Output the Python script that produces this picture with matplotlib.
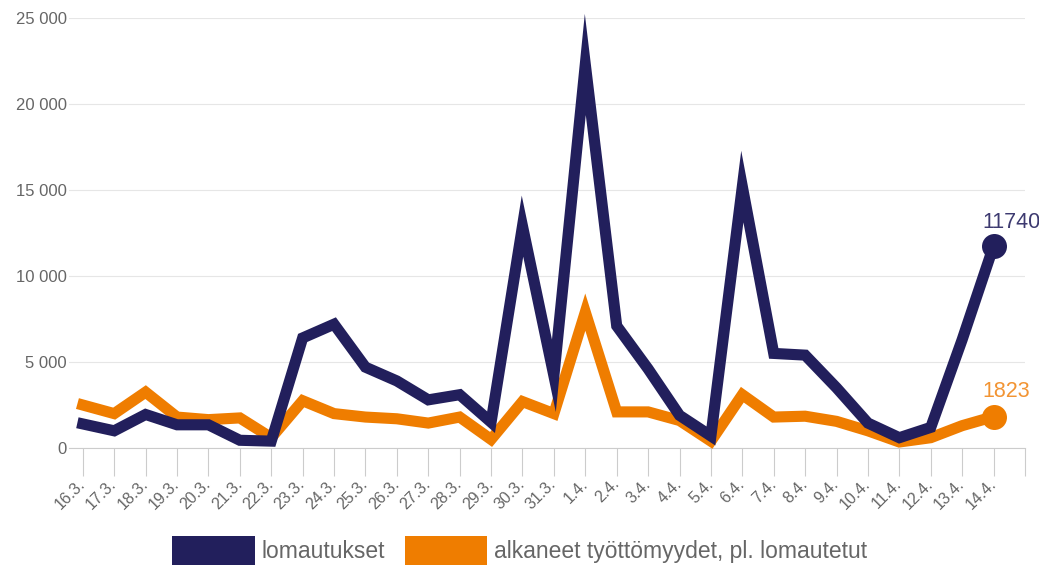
import numpy as np
import matplotlib
matplotlib.use('Agg')
from matplotlib import pyplot as plt
from matplotlib.patches import Patch
from matplotlib.ticker import FuncFormatter

plt.rcParams['font.family'] = ['Liberation Sans', 'DejaVu Sans']

# Päivät 16.3.-14.4.
days = ['16.3.', '17.3.', '18.3.', '19.3.', '20.3.', '21.3.', '22.3.', '23.3.',
        '24.3.', '25.3.', '26.3.', '27.3.', '28.3.', '29.3.', '30.3.', '31.3.',
        '1.4.', '2.4.', '3.4.', '4.4.', '5.4.', '6.4.', '7.4.', '8.4.', '9.4.',
        '10.4.', '11.4.', '12.4.', '13.4.', '14.4.']

lomautukset = [1400, 1000, 1950, 1350, 1350, 450, 400, 6400,
               7200, 4700, 3900, 2800, 3100, 1500, 12900, 4200,
               22300, 7100, 4600, 1900, 700, 15200, 5500, 5400, 3500,
               1450, 600, 1200, 6300, 11740]

alkaneet = [2500, 2000, 3250, 1800, 1650, 1750, 600, 2750,
            2000, 1800, 1700, 1450, 1800, 500, 2700, 2000,
            7900, 2100, 2100, 1600, 400, 3100, 1800, 1850, 1550,
            1000, 350, 600, 1300, 1823]

names = ['lomautukset', 'alkaneet työttömyydet, pl. lomautetut']
navy = '#221f5c'
orange = '#ef7d00'
grey = '#666666'

fig = plt.figure(figsize=(10.39, 5.70), dpi=100)
ax = fig.add_axes([0.0664, 0.2140, 0.9201, 0.7544])

x = np.arange(len(days))
ax.plot(x, alkaneet, color=orange, lw=8, solid_joinstyle='miter',
        marker='o', markevery=[-1], ms=18, mew=0, clip_on=False, zorder=3)
ax.plot(x, lomautukset, color=navy, lw=8, solid_joinstyle='miter',
        marker='o', markevery=[-1], ms=18, mew=0, clip_on=False, zorder=4)

# arvot viimeisen pisteen yläpuolelle
ax.annotate(str(lomautukset[-1]), (x[-1], lomautukset[-1]), xytext=(-8, 13),
            textcoords='offset points', color='#3d3a70', fontsize=15.5,
            ha='left', va='baseline', annotation_clip=False)
ax.annotate(str(alkaneet[-1]), (x[-1], alkaneet[-1]), xytext=(-8, 14),
            textcoords='offset points', color='#f29433', fontsize=15.5,
            ha='left', va='baseline', annotation_clip=False)

ax.set_ylim(0, 25000)
ax.set_yticks(np.arange(0, 25001, 5000))
ax.yaxis.set_major_formatter(FuncFormatter(lambda v, p: f'{int(v):,}'.replace(',', ' ')))
ax.set_xlim(-0.44, len(days))
ax.set_xticks(np.arange(len(days) + 1))
ax.set_xticklabels(days + [''], rotation=45, ha='right', va='center',
                   rotation_mode='anchor')

ax.grid(axis='y', color='#e6e6e6', lw=0.8)
ax.set_axisbelow(True)
for side in ['top', 'right', 'left']:
    ax.spines[side].set_visible(False)
ax.spines['bottom'].set_color('#cccccc')
ax.spines['bottom'].set_linewidth(0.8)

ax.tick_params(axis='y', length=0, pad=1.5, labelsize=12, labelcolor=grey)
ax.tick_params(axis='x', length=20, width=0.8, color='#cccccc', pad=4,
               labelsize=11.5, labelcolor=grey)

handles = [Patch(facecolor=navy), Patch(facecolor=orange)]
fig.legend(handles, names, loc='upper left', bbox_to_anchor=(172 / 1039, 1 - 536 / 570),
           ncol=2, frameon=False, fontsize=16.5, labelcolor=grey, borderpad=0,
           borderaxespad=0, handlelength=3.6, handleheight=1.55,
           handletextpad=0.3, columnspacing=0.87)

fig.savefig('out.png', dpi=100)
